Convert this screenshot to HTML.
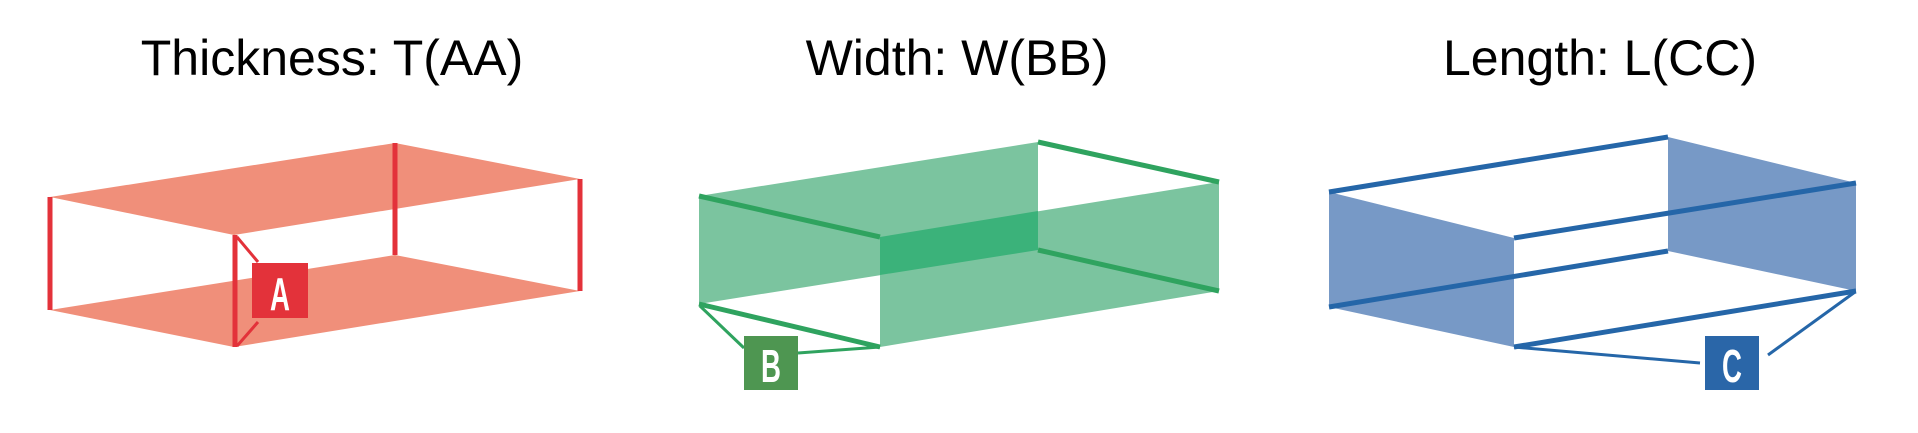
<!DOCTYPE html>
<html><head><meta charset="utf-8"><style>html,body{margin:0;padding:0;background:#fff}svg{display:block}</style></head>
<body>
<svg width="1918" height="433" viewBox="0 0 1918 433" xmlns="http://www.w3.org/2000/svg">
<g font-family="Liberation Sans, Arial, sans-serif" font-size="50" fill="#000" text-anchor="middle">
<text x="332" y="75">Thickness: T(AA)</text>
<text x="957" y="75">Width: W(BB)</text>
<text x="1600" y="75">Length: L(CC)</text>
</g>
<!-- RED -->
<polygon points="50,197 395,143 580,179 234,235" fill="#f08f7a"/>
<polygon points="50,310 395,255 580,291 234,347" fill="#f08f7a"/>
<g stroke="#e3323a" stroke-width="5" fill="none">
<line x1="50" y1="197" x2="50" y2="310"/>
<line x1="580" y1="179" x2="580" y2="291"/>
<line x1="395" y1="143" x2="395" y2="255"/>
<line x1="235" y1="235" x2="235" y2="347"/>
<line x1="237" y1="237" x2="258" y2="262" stroke-width="3"/>
<line x1="237" y1="346" x2="258" y2="322" stroke-width="3"/>
</g>
<rect x="252" y="263" width="56" height="55" fill="#e3323a"/>
<text x="280" y="310" font-family="Liberation Sans, Arial, sans-serif" font-weight="bold" font-size="46" fill="#fff" text-anchor="middle" transform="translate(280 0) scale(0.6 1) translate(-280 0)">A</text>
<!-- GREEN -->
<polygon points="699,196 1038,142 1038,250 699,304" fill="#7bc49f"/>
<polygon points="880,237 1219,182 1219,291 880,347" fill="#7bc49f"/>
<polygon points="880,237 1038,211 1038,250 880,275" fill="#3bb27a"/>
<g stroke="#2fa35f" stroke-width="5" fill="none">
<line x1="699" y1="196" x2="880" y2="237"/>
<line x1="1038" y1="142" x2="1219" y2="182"/>
<line x1="699" y1="304" x2="880" y2="347"/>
<line x1="1038" y1="250" x2="1219" y2="291"/>
<line x1="700" y1="306" x2="744" y2="348" stroke-width="3"/>
<line x1="880" y1="347" x2="798" y2="353" stroke-width="3"/>
</g>
<rect x="744" y="336" width="54" height="54" fill="#4e9651"/>
<text x="771" y="382" font-family="Liberation Sans, Arial, sans-serif" font-weight="bold" font-size="46" fill="#fff" text-anchor="middle" transform="translate(771 0) scale(0.6 1) translate(-771 0)">B</text>
<!-- BLUE -->
<polygon points="1329,192 1514,238 1514,347 1329,307" fill="#7799c6"/>
<polygon points="1668,137 1856,183 1856,291 1668,251" fill="#7799c6"/>
<g stroke="#2566a8" stroke-width="5" fill="none">
<line x1="1329" y1="192" x2="1668" y2="137"/>
<line x1="1514" y1="238" x2="1856" y2="183"/>
<line x1="1329" y1="307" x2="1668" y2="251"/>
<line x1="1514" y1="347" x2="1856" y2="291"/>
<line x1="1514" y1="347" x2="1700" y2="363" stroke-width="3"/>
<line x1="1855" y1="292" x2="1768" y2="355" stroke-width="3"/>
</g>
<rect x="1705" y="336" width="54" height="54" fill="#2a66a8"/>
<text x="1732" y="382" font-family="Liberation Sans, Arial, sans-serif" font-weight="bold" font-size="46" fill="#fff" text-anchor="middle" transform="translate(1732 0) scale(0.6 1) translate(-1732 0)">C</text>
</svg>
</body></html>
